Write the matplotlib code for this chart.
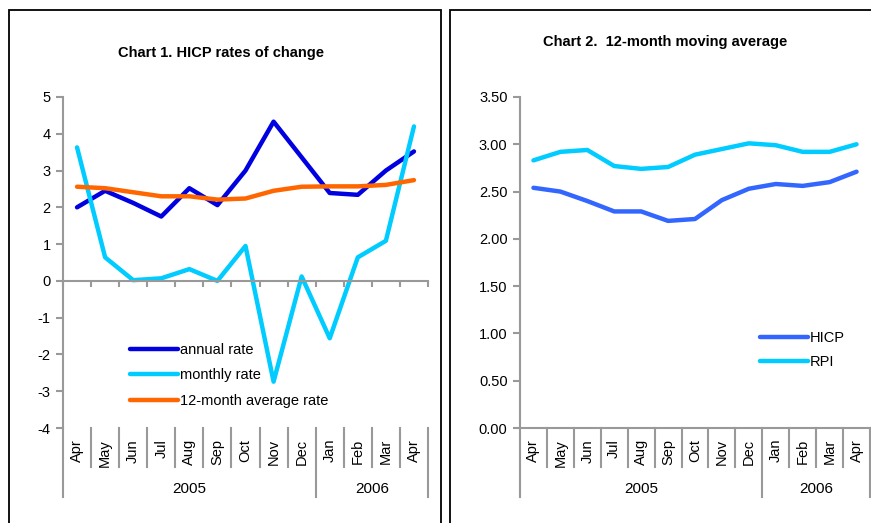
import matplotlib
matplotlib.use("Agg")
import matplotlib.pyplot as plt
from matplotlib.transforms import blended_transform_factory
from matplotlib.patches import Rectangle

plt.rcParams['font.family'] = ['Liberation Sans', 'DejaVu Sans']
plt.rcParams['font.size'] = 10.5
plt.rcParams['axes.unicode_minus'] = False

months = ['Apr', 'May', 'Jun', 'Jul', 'Aug', 'Sep', 'Oct', 'Nov', 'Dec',
          'Jan', 'Feb', 'Mar', 'Apr']
years = ['2005', '2006']
year_len = [9, 4]

# chart 1
annual_rate = [2.0, 2.45, 2.12, 1.75, 2.52, 2.06, 3.0, 4.33, 3.36, 2.39, 2.34, 3.0, 3.52]
monthly_rate = [3.63, 0.64, 0.02, 0.07, 0.32, 0.0, 0.95, -2.74, 0.12, -1.56, 0.64, 1.09, 4.2]
avg_rate = [2.56, 2.52, 2.41, 2.30, 2.30, 2.21, 2.24, 2.45, 2.56, 2.57, 2.57, 2.61, 2.74]

# chart 2
hicp = [2.54, 2.50, 2.40, 2.29, 2.29, 2.19, 2.21, 2.41, 2.53, 2.58, 2.56, 2.60, 2.71]
rpi = [2.83, 2.92, 2.94, 2.77, 2.74, 2.76, 2.89, 2.95, 3.01, 2.99, 2.92, 2.92, 3.00]

W, H = 871, 523
GRAY = '#999999'

fig = plt.figure(figsize=(W / 100, H / 100), dpi=100)


def fy(py):
    return 1 - py / H


def frame(x0, x1):
    fig.patches.append(Rectangle((x0 / W, fy(H + 20)), (x1 - x0) / W, (H + 10) / H,
                                 transform=fig.transFigure, fill=False,
                                 edgecolor='black', linewidth=1.3))


def month_axis(ax, bottom_px):
    n = len(months)
    tr = blended_transform_factory(ax.transData, fig.transFigure)
    for i, m in enumerate(months):
        ax.text(i, fy(bottom_px + 11), m, rotation=90, ha='center', va='top',
                transform=tr, fontsize=10.5)
    edges = [-0.5]
    for k in year_len:
        edges.append(edges[-1] + k)
    for b in range(n + 1):
        xb = b - 0.5
        end = bottom_px + 69 if xb in edges else bottom_px + 39
        ax.plot([xb, xb], [fy(bottom_px), fy(end)], color=GRAY, lw=1.5,
                transform=tr, clip_on=False)
    for j, y in enumerate(years):
        c = (edges[j] + edges[j + 1]) / 2
        ax.text(c, fy(bottom_px + 61), y, ha='center', va='center',
                transform=tr, fontsize=11)


def style_axes(ax):
    for s in ['top', 'right']:
        ax.spines[s].set_visible(False)
    ax.spines['left'].set_color(GRAY)
    ax.spines['left'].set_linewidth(1.5)
    ax.spines['bottom'].set_color(GRAY)
    ax.spines['bottom'].set_linewidth(1.5)
    ax.tick_params(axis='y', colors=GRAY, width=1.5, length=5, pad=4,
                   labelcolor='black', labelsize=10.5)
    ax.set_xlim(-0.5, len(months) - 0.5)
    ax.set_facecolor('none')


# ---- chart 1 ----
frame(9, 441)
ax1 = fig.add_axes([63 / W, fy(428), (428 - 63) / W, (428 - 97) / H])
x = range(len(months))
ax1.plot(x, annual_rate, color='#0000E0', lw=3.2, label='annual rate', solid_capstyle='round')
ax1.plot(x, monthly_rate, color='#00CCFF', lw=3.2, label='monthly rate', solid_capstyle='round')
ax1.plot(x, avg_rate, color='#FF6600', lw=3.2, label='12-month average rate', solid_capstyle='round')
ax1.set_ylim(-4, 5)
ax1.set_yticks(range(-4, 6))
style_axes(ax1)
ax1.spines['bottom'].set_position(('data', 0))
ax1.set_xticks([i + 0.5 for i in range(-1, len(months))])
ax1.tick_params(axis='x', colors=GRAY, width=1.5, length=4, labelbottom=False)
month_axis(ax1, 428)
ax1.legend(loc='upper left', bbox_to_anchor=(130 / W, fy(343)),
           bbox_transform=fig.transFigure, frameon=False, fontsize=10.5,
           handlelength=3.3, handletextpad=0.12, labelspacing=0.78,
           borderpad=0, borderaxespad=0)
fig.text(221 / W, fy(53), 'Chart 1. HICP rates of change', ha='center',
         va='center', fontweight='bold', fontsize=10.5)

# ---- chart 2 ----
frame(450, 880)
ax2 = fig.add_axes([520 / W, fy(428), (870 - 520) / W, (428 - 97) / H])
ax2.plot(x, hicp, color='#3366FF', lw=3.2, label='HICP', solid_capstyle='round')
ax2.plot(x, rpi, color='#00CCFF', lw=3.2, label='RPI', solid_capstyle='round')
ax2.set_ylim(0, 3.5)
ax2.set_yticks([i * 0.5 for i in range(8)])
ax2.set_yticklabels(['%.2f' % (i * 0.5) for i in range(8)])
style_axes(ax2)
ax2.set_xticks([])
month_axis(ax2, 428)
ax2.legend(loc='upper left', bbox_to_anchor=(760 / W, fy(331)),
           bbox_transform=fig.transFigure, frameon=False, fontsize=10.5,
           handlelength=3.3, handletextpad=0.12, labelspacing=0.72,
           borderpad=0, borderaxespad=0)
fig.text(665 / W, fy(42), 'Chart 2.  12-month moving average', ha='center',
         va='center', fontweight='bold', fontsize=10.5)

fig.savefig('out.png', dpi=100)
